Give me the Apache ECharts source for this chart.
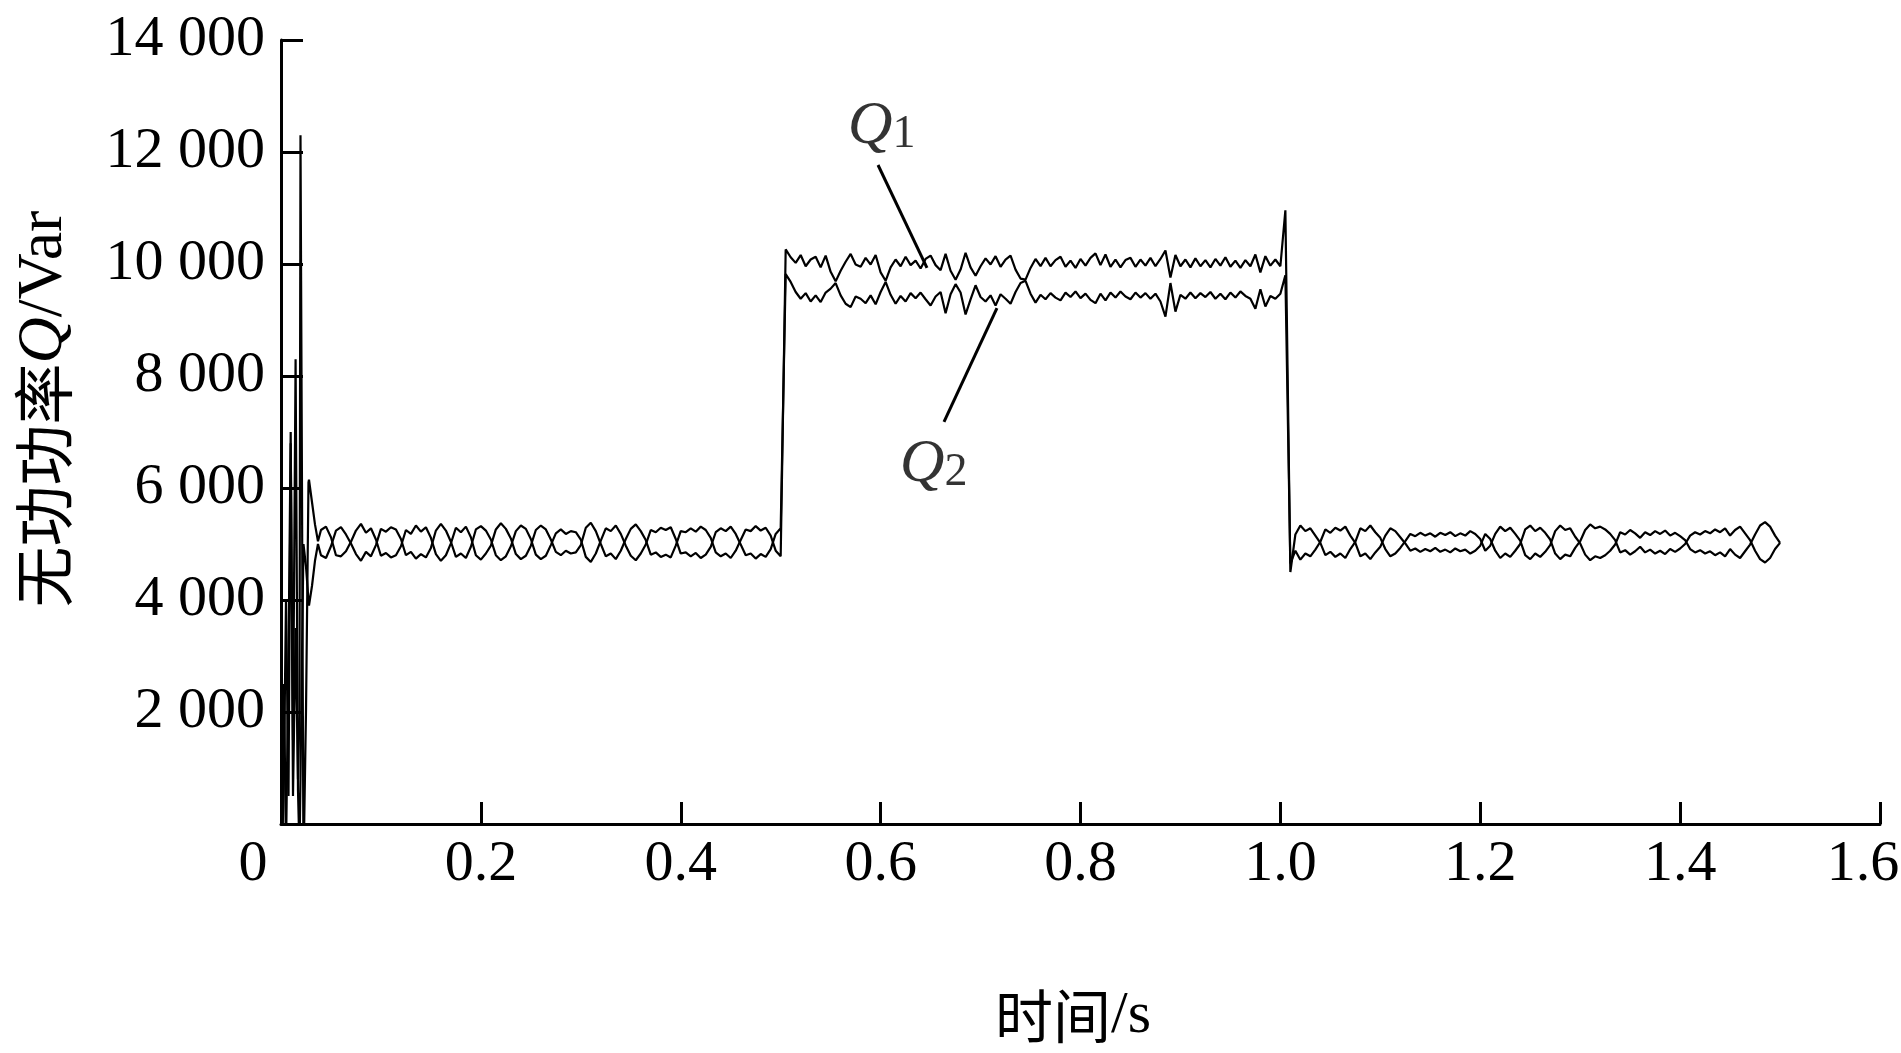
<!DOCTYPE html>
<html>
<head>
<meta charset="utf-8">
<script src="https://cdn.jsdelivr.net/npm/echarts@6/dist/echarts.min.js"></script>
<style>
html,body{margin:0;padding:0;background:#ffffff;overflow:hidden;}
#chart{width:1901px;height:1053px;}
</style>
</head>
<body>
<div id="chart"></div>
<script>
// ---------------- data ----------------
const xTicks = [0, 0.2, 0.4, 0.6, 0.8, 1.0, 1.2, 1.4, 1.6];
const yTicks = [0, 2000, 4000, 6000, 8000, 10000, 12000, 14000];
const xTitleParts = ['时间', '/s'];
const yTitleParts = ['无功功率', 'Q', '/Var'];
const seriesNames = ['Q1', 'Q2'];

// start-up transient (explicit times, s)
const tTransient = [0, 0.003, 0.005, 0.0075, 0.0097, 0.012, 0.0146, 0.017, 0.0185, 0.0195, 0.021, 0.0225, 0.025, 0.0275, 0.028, 0.031, 0.034, 0.037, 0.040];
const q1Transient = [-2000, 2500, -500, 3000, 7000, 500, 3500, 800, 2000, 12300, 6000, -800, 2000, 6100, 6150, 5750, 5350, 5050, 5250];
const q2Transient = [-1500, 1000, 4000, 500, 6800, 1500, 8300, 600, -500, 800, 3000, 5000, 4600, 4000, 3900, 4250, 4700, 5000, 4800];

// sampled segments, one value every 0.005 s
const sampleStep = 0.005;
const segAStart = 0.045;   // 0.045 .. 0.500
const segBStart = 0.505;   // 0.505 .. 1.010
const segCStart = 1.015;   // 1.015 .. 1.500

const q1SegA = [
  5310,5120,4800,4780,4870,5040,5240,5360,5200,5280,
  5080,4790,4840,4760,4800,4960,5250,5180,5330,5220,
  5300,5110,4820,4700,4800,5010,5290,5210,5310,5120,
  4800,4720,4830,4970,5260,5370,5270,5100,4820,4730,
  4790,4970,5250,5330,5260,5080,4860,4800,4880,4830,
  4850,4980,5290,5380,5230,5000,4780,4830,4730,4880,
  5090,5270,5350,5230,5070,4810,4850,4770,4810,4760,
  4970,5230,5210,5280,5220,5310,5250,5110,4850,4780,
  4830,4750,4880,5070,5260,5230,5320,5240,5290,5150,
  4880,4780
];
const q2SegA = [
  4750,4960,5240,5300,5170,5010,4820,4700,4860,4780,
  4980,5270,5220,5300,5260,5090,4800,4860,4740,4820,
  4760,4930,5240,5360,5240,5040,4770,4830,4750,4950,
  5260,5320,5240,5080,4800,4710,4780,4960,5230,5330,
  5270,5090,4810,4730,4790,4980,5190,5260,5180,5230,
  5210,5080,4770,4680,4830,5060,5280,5230,5330,5180,
  4970,4790,4710,4830,4990,5250,5210,5290,5250,5300,
  5090,4830,4850,4780,4840,4750,4810,4950,5210,5280,
  5230,5310,5180,4990,4800,4830,4740,4820,4770,4910,
  5180,5280
];
const q1SegB = [
  10260,10120,10020,10160,9960,10080,10130,9940,10150,9860,
  9690,9880,10040,10180,9990,9950,10110,9990,10160,9850,
  9700,9940,10080,9960,10130,9980,10060,9920,10090,10150,
  9980,9890,10180,9880,9720,9900,10200,9940,9790,9960,
  10100,9990,10140,9950,10080,10150,9900,9740,9720,9930,
  10090,9960,10110,9960,10070,10130,9950,10060,9930,10090,
  9970,10110,10190,9980,10170,9950,10080,9940,10070,10110,
  9950,10080,9970,10110,9960,10090,10240,9760,10160,9960,
  10080,9940,10100,9960,10070,9940,10090,9970,10120,9950,
  10060,9930,10070,9960,10170,9850,10140,9970,10080,9960,
  10960,4500
];
const q2SegB = [
  9820,9680,9500,9380,9480,9330,9440,9320,9490,9560,
  9660,9440,9290,9230,9420,9380,9300,9440,9280,9500,
  9680,9450,9290,9430,9330,9480,9390,9490,9370,9260,
  9420,9500,9120,9460,9640,9490,9100,9370,9620,9410,
  9330,9440,9260,9460,9380,9290,9500,9660,9700,9470,
  9310,9450,9370,9480,9400,9350,9490,9410,9510,9390,
  9470,9360,9300,9470,9350,9490,9400,9510,9420,9370,
  9490,9400,9480,9380,9470,9330,9060,9660,9150,9450,
  9380,9490,9390,9480,9410,9500,9380,9470,9370,9490,
  9400,9510,9430,9380,9200,9550,9240,9430,9380,9470,
  9800,4650
];
const q1SegC = [
  5170,5330,5230,5280,5150,5020,4800,4860,4770,4830,
  4750,4910,5040,5280,5230,5330,5210,5110,4910,4780,
  4830,4930,5050,5180,5140,5200,5150,5190,5130,5200,
  5160,5210,5140,5190,5150,5230,5180,5090,4880,4970,
  5180,5310,5230,5290,5180,5060,4800,4730,4830,4770,
  4860,4980,5230,5330,5250,5280,5130,5010,4810,4710,
  4780,4750,4800,4880,4990,5210,5170,5250,5190,5110,
  5210,5160,5230,5180,5240,5150,5200,5140,5070,4910,
  4850,4890,4830,4870,4800,4850,4780,4910,4810,4750,
  4870,4990,5170,5330,5390,5310,5150,5020
];
const q2SegC = [
  4880,4720,4830,4780,4900,5040,5260,5200,5290,5240,
  5310,5150,5020,4780,4830,4730,4850,4950,5150,5280,
  5230,5120,5010,4880,4920,4860,4910,4870,4930,4860,
  4900,4850,4920,4870,4900,4830,4880,4970,5180,5090,
  4880,4750,4830,4770,4880,5000,5260,5330,5230,5290,
  5200,5080,4830,4730,4810,4780,4930,5050,5250,5350,
  5280,5310,5260,5180,5070,4850,4890,4810,4870,4950,
  4850,4900,4830,4880,4820,4910,4860,4920,5000,5150,
  5210,5170,5230,5190,5260,5210,5280,5150,5250,5310,
  5190,5070,4880,4730,4670,4750,4910,5020
];

// annotations (data coordinates)
const annoLabelX = [0.601, 0.653];
const annoLabelY = [12430, 6400];
const annoSubscripts = ['1', '2'];
const leaderStart = [[0.5974, 11768], [0.7164, 9214]];
const leaderEnd = [[0.6464, 9929], [0.6634, 7179]];

// ---------------- build ----------------
function sampled(start, values) {
  return values.map((v, i) => [+(start + i * sampleStep).toFixed(4), v]);
}
function buildSeries(trans, a, b, c) {
  return tTransient.map((t, i) => [t, trans[i]])
    .concat(sampled(segAStart, a), sampled(segBStart, b), sampled(segCStart, c));
}
const q1Data = buildSeries(q1Transient, q1SegA, q1SegB, q1SegC);
const q2Data = buildSeries(q2Transient, q2SegA, q2SegB, q2SegC);

const SERIF = "'Liberation Serif','Times New Roman',serif";
const CJK = "'Noto Sans CJK SC','Noto Sans CJK JP',sans-serif";
const FS = 58;
const X_MIN = xTicks[0];
const X_MAX = xTicks[xTicks.length - 1];

const chart = echarts.init(document.getElementById('chart'), null, {renderer: 'canvas'});

const lineStyleCommon = {color: '#000', width: 2.2};

const option = {
  backgroundColor: '#ffffff',
  animation: false,
  grid: {left: 281, right: 21, top: 40, bottom: 229, containLabel: false, outerBoundsMode: 'none'},
  xAxis: {
    type: 'value',
    min: X_MIN,
    max: X_MAX,
    interval: xTicks[1] - xTicks[0],
    axisLine: {show: true, onZero: false, lineStyle: {color: '#000', width: 3}},
    axisTick: {show: true, inside: true, length: 22, lineStyle: {color: '#000', width: 3}},
    splitLine: {show: false},
    axisLabel: {
      color: '#000', fontFamily: SERIF, fontSize: FS, margin: 12,
      formatter: v => {
        if (Math.abs(v - X_MIN) < 1e-9) return '{z|0}';
        if (Math.abs(v - X_MAX) < 1e-9) return '{m|' + v.toFixed(1) + '}';
        return v.toFixed(1);
      },
      rich: {
        z: {fontFamily: SERIF, fontSize: FS, color: '#000', padding: [0, 56, 0, 0]},
        m: {fontFamily: SERIF, fontSize: FS, color: '#000', padding: [0, 34, 0, 0]}
      }
    }
  },
  yAxis: {
    type: 'value',
    min: yTicks[0],
    max: yTicks[yTicks.length - 1],
    interval: yTicks[1] - yTicks[0],
    axisLine: {show: true, lineStyle: {color: '#000', width: 3}},
    axisTick: {show: true, inside: true, length: 22, lineStyle: {color: '#000', width: 3}},
    splitLine: {show: false},
    axisLabel: {
      showMinLabel: false,
      color: '#000', fontFamily: SERIF, fontSize: FS, margin: 16,
      formatter: v => String(v).replace(/(\d)(?=(\d{3})+$)/, '$1 ')
    }
  },
  graphic: [
    {
      type: 'text', x: 44, y: 409, rotation: Math.PI / 2,
      style: {
        text: '{c|' + yTitleParts[0] + '}{q|' + yTitleParts[1] + '}{r|' + yTitleParts[2] + '}',
        align: 'center', verticalAlign: 'middle',
        fill: '#000',
        rich: {
          c: {fontFamily: CJK, fontSize: 61, fill: '#000'},
          q: {fontFamily: SERIF, fontSize: 64, fontStyle: 'italic', fill: '#000'},
          r: {fontFamily: SERIF, fontSize: 64, fill: '#000'}
        }
      }
    },
    {
      type: 'text', x: 1073, y: 1016,
      style: {
        text: '{c|' + xTitleParts[0] + '}{r|' + xTitleParts[1] + '}',
        align: 'center', verticalAlign: 'middle',
        fill: '#000',
        rich: {
          c: {fontFamily: CJK, fontSize: 58, fill: '#000'},
          r: {fontFamily: SERIF, fontSize: 60, fill: '#000'}
        }
      }
    }
  ],
  series: [
    {
      name: seriesNames[0], type: 'line', data: q1Data, showSymbol: false, symbol: 'none',
      lineStyle: lineStyleCommon, itemStyle: {color: '#000'}, clip: true, silent: true
    },
    {
      name: seriesNames[1], type: 'line', data: q2Data, showSymbol: false, symbol: 'none',
      lineStyle: lineStyleCommon, itemStyle: {color: '#000'}, clip: true, silent: true
    },
    {
      name: 'annotations', type: 'scatter', symbolSize: 0, silent: true, z: 5,
      data: annoLabelX.map((x, i) => [x, annoLabelY[i]]),
      label: {
        show: true, position: 'inside', color: '#000',
        formatter: p => '{q|Q}{s|' + annoSubscripts[p.dataIndex] + '}',
        rich: {
          q: {fontFamily: SERIF, fontSize: 62, fontStyle: 'italic', color: '#000', lineHeight: 60, verticalAlign: 'bottom'},
          s: {fontFamily: SERIF, fontSize: 46, color: '#000', lineHeight: 40, verticalAlign: 'bottom'}
        }
      },
      markLine: {
        silent: true, symbol: ['none', 'none'], animation: false,
        label: {show: false},
        lineStyle: {color: '#000', width: 3, type: 'solid'},
        emphasis: {disabled: true},
        data: leaderStart.map((s, i) => [{coord: s}, {coord: leaderEnd[i]}])
      }
    }
  ]
};
chart.setOption(option);
</script>
</body>
</html>
